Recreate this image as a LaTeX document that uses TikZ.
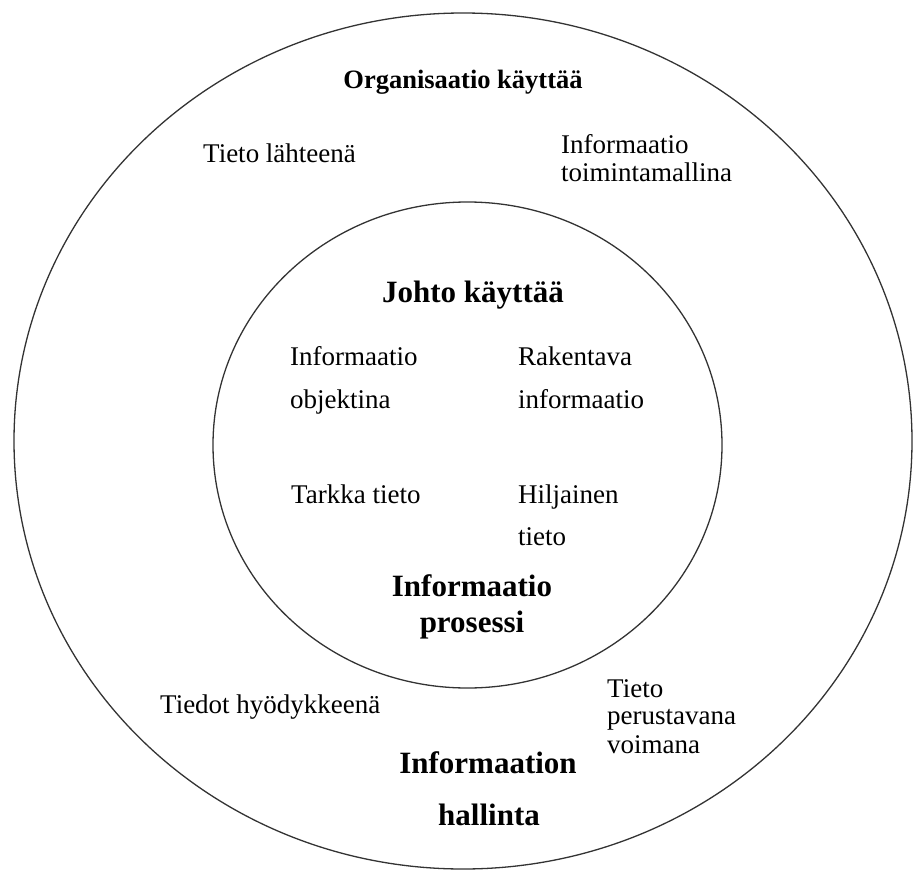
\documentclass[tikz,border=0pt]{standalone}
\usepackage{fontspec}
\setmainfont{Liberation Serif}
\begin{document}
\begin{tikzpicture}[x=1pt,y=-1pt,
  ring/.style={draw=black!80,line width=1.3pt},
  lbl/.style={inner sep=0pt,anchor=base west,font=\fontsize{27}{32}\selectfont},
  head/.style={inner sep=0pt,anchor=base,font=\fontsize{31}{36}\selectfont\bfseries},
  toph/.style={inner sep=0pt,anchor=base,font=\fontsize{26.5}{32}\selectfont\bfseries}]
\useasboundingbox (0,0) rectangle (914,873);
% the two circles
\draw[ring] (463,441) ellipse [x radius=449, y radius=428];
\draw[ring] (467.5,445) ellipse [x radius=254.5, y radius=243];
% outer ring
\node[toph] (org) at (463,88) {Organisaatio käyttää};
\node[lbl] (lahde) at (203,162) {Tieto lähteenä};
\node[lbl] (toim1) at (561,153) {Informaatio};
\node[lbl] (toim2) at (561,181) {toimintamallina};
\node[lbl] (hyod) at (160,713) {Tiedot hyödykkeenä};
\node[lbl] (voim1) at (607,697) {Tieto};
\node[lbl] (voim2) at (607,724) {perustavana};
\node[lbl] (voim3) at (607,753) {voimana};
\node[head] (hall1) at (488,773) {Informaation};
\node[head] (hall2) at (489,825) {hallinta};
% inner circle
\node[head] (johto) at (473,302) {Johto käyttää};
\node[lbl] (obj1) at (290,365) {Informaatio};
\node[lbl] (obj2) at (290,408) {objektina};
\node[lbl] (rak1) at (518,365) {Rakentava};
\node[lbl] (rak2) at (518,408) {informaatio};
\node[lbl] (tark) at (291,503) {Tarkka tieto};
\node[lbl] (hilj1) at (518,503) {Hiljainen};
\node[lbl] (hilj2) at (518,545) {tieto};
\node[head] (pros1) at (472,596) {Informaatio};
\node[head] (pros2) at (472,632) {prosessi};
\end{tikzpicture}
\end{document}
